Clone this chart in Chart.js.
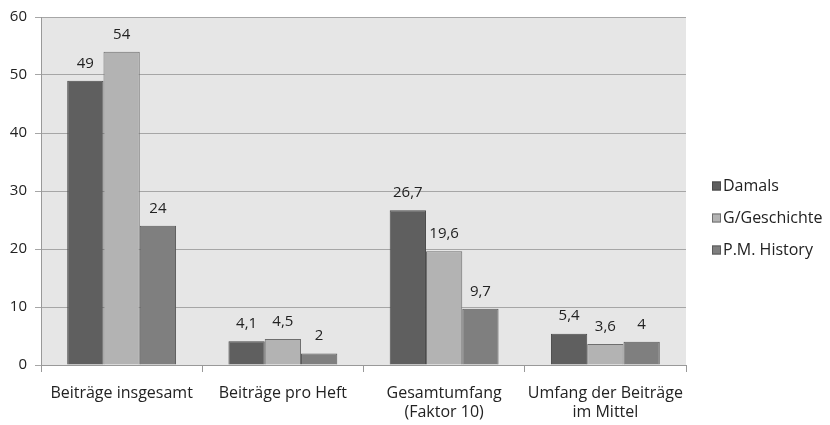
<!DOCTYPE html>
<html>
<head>
<meta charset="utf-8">
<script src="https://cdn.jsdelivr.net/npm/chart.js@4"></script>
<style>
  html, body { margin: 0; padding: 0; background: #fff; }
  #wrap { width: 830px; height: 425px; }
</style>
</head>
<body>
<div id="wrap"><canvas id="chart" width="830" height="425"></canvas></div>
<script>
// categories and series
var categories = [
    'Beiträge insgesamt',
    'Beiträge pro Heft',
    ['Gesamtumfang', '(Faktor 10)'],
    ['Umfang der Beiträge', 'im Mittel']
];
var damals = [49, 4.1, 26.7, 5.4];
var gGeschichte = [54, 4.5, 19.6, 3.6];
var pmHistory = [24, 2, 9.7, 4];
var yTicks = [0, 10, 20, 30, 40, 50, 60];

var FONT = '"Open Sans", sans-serif';

// grey plot background
var plotBg = {
    id: 'plotBg',
    beforeDraw: function(chart) {
        var a = chart.chartArea, ctx = chart.ctx;
        ctx.save();
        ctx.fillStyle = '#e6e6e6';
        ctx.fillRect(a.left, a.top, a.right - a.left, a.bottom - a.top);
        ctx.restore();
    }
};

// value labels above each bar, decimal comma
var valueLabels = {
    id: 'valueLabels',
    afterDatasetsDraw: function(chart) {
        var ctx = chart.ctx;
        ctx.save();
        ctx.font = '15px ' + FONT;
        ctx.fillStyle = '#222';
        ctx.textAlign = 'center';
        ctx.textBaseline = 'bottom';
        chart.data.datasets.forEach(function(ds, i) {
            chart.getDatasetMeta(i).data.forEach(function(bar, j) {
                ctx.fillText(String(ds.data[j]).replace('.', ','), bar.x, bar.y - 10);
            });
        });
        ctx.restore();
    }
};

// legend on the right, drawn by hand so it sits where the original has it
var sideLegend = {
    id: 'sideLegend',
    afterDraw: function(chart) {
        var ctx = chart.ctx;
        var a = chart.chartArea;
        var x = a.right + 26;
        var yMid = 218;
        ctx.save();
        ctx.font = '16px ' + FONT;
        ctx.textBaseline = 'middle';
        ctx.textAlign = 'left';
        chart.data.datasets.forEach(function(ds, i) {
            var y = yMid + (i - 1) * 32;
            ctx.fillStyle = ds.backgroundColor;
            ctx.fillRect(x, y - 4.5, 9, 9);
            ctx.strokeStyle = ds.borderColor;
            ctx.lineWidth = 1;
            ctx.strokeRect(x + 0.5, y - 4, 8, 8);
            ctx.fillStyle = '#222';
            ctx.fillText(ds.label, x + 11, y);
        });
        ctx.restore();
    }
};

new Chart(document.getElementById('chart'), {
    type: 'bar',
    data: {
        labels: categories,
        datasets: [
            {label: 'Damals', data: damals, backgroundColor: '#5f5f5f', borderColor: '#4a4a4a', borderWidth: 1},
            {label: 'G/Geschichte', data: gGeschichte, backgroundColor: '#b3b3b3', borderColor: '#6e6e6e', borderWidth: 1},
            {label: 'P.M. History', data: pmHistory, backgroundColor: '#7f7f7f', borderColor: '#5a5a5a', borderWidth: 1}
        ]
    },
    options: {
        responsive: false,
        animation: false,
        layout: {padding: {top: 6, right: 144, left: 6, bottom: 2}},
        datasets: {bar: {categoryPercentage: 0.675, barPercentage: 1}},
        plugins: {
            legend: {display: false},
            tooltip: {enabled: false}
        },
        scales: {
            x: {
                afterFit: function(axis) { axis.height = 58; },
                grid: {display: true, drawOnChartArea: false, offset: true, color: '#999', tickLength: 7},
                border: {color: '#999'},
                ticks: {font: {family: FONT, size: 16, lineHeight: 1.2}, color: '#222', maxRotation: 0, autoSkip: false, padding: 12}
            },
            y: {
                min: 0, max: 60,
                afterBuildTicks: function(axis) {
                    axis.ticks = yTicks.map(function(v) { return {value: v}; });
                },
                afterFit: function(axis) { axis.width = 35; },
                grid: {color: '#a6a6a6', tickLength: 6},
                border: {color: '#999'},
                ticks: {font: {family: FONT, size: 15}, color: '#222', padding: 8}
            }
        }
    },
    plugins: [plotBg, valueLabels, sideLegend]
});
</script>
</body>
</html>
